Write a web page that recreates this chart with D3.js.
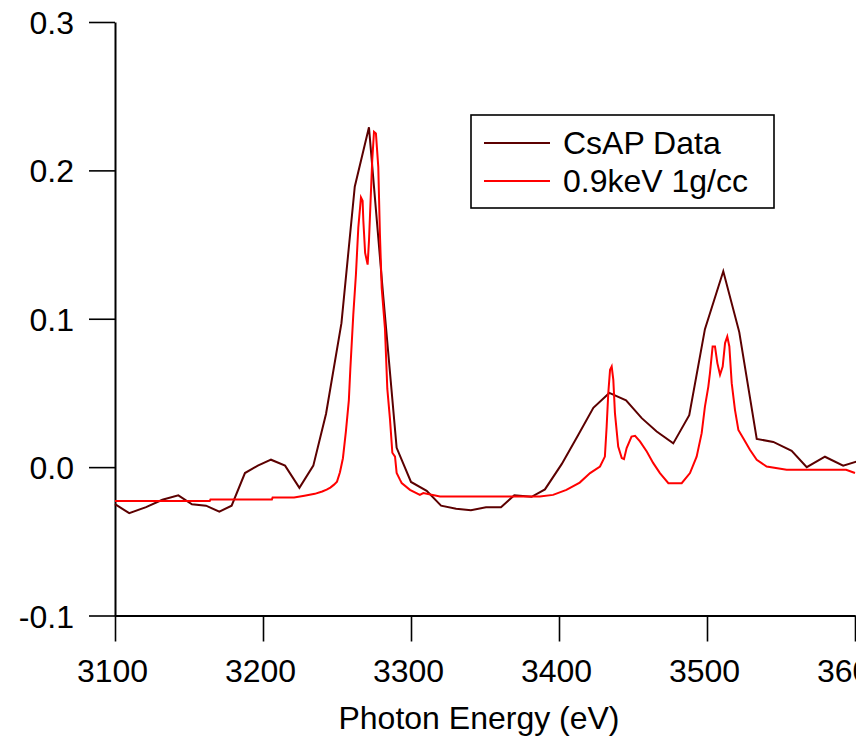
<!DOCTYPE html>
<html>
<head>
<meta charset="utf-8">
<script src="https://cdn.jsdelivr.net/npm/d3@7"></script>
<style>
  body { margin: 0; background: #fff; }
  svg { display: block; font-family: "Liberation Sans", Arial, sans-serif; }
</style>
</head>
<body>
<svg id="chart" width="856" height="739"></svg>
<script>
// ---------------------------//
//          DATA              //
// ---------------------------//

// measured spectrum (eV, signal)
var csapEnergy = [3100, 3109.6, 3121, 3132, 3142.8, 3152, 3161.5, 3170.5, 3178.8, 3187.8,
  3196.5, 3205.4, 3214.9, 3224.6, 3234, 3242.6, 3253, 3262, 3271.6, 3281,
  3290.3, 3300, 3310.6, 3320.3, 3330.5, 3340.5, 3350.7, 3360.8, 3369.8, 3381.5,
  3390.5, 3401.8, 3412.6, 3423.2, 3434, 3445.3, 3455.9, 3466, 3477.2, 3488,
  3498.6, 3511, 3521.8, 3533.6, 3544.8, 3557.2, 3567.4, 3579.7, 3592, 3602];
var csapValue = [-0.025, -0.031, -0.027, -0.022, -0.019, -0.025, -0.026, -0.030, -0.026, -0.004,
  0.001, 0.005, 0.001, -0.014, 0.001, 0.036, 0.097, 0.189, 0.229, 0.118,
  0.013, -0.010, -0.016, -0.026, -0.028, -0.029, -0.027, -0.027, -0.019, -0.020,
  -0.015, 0.002, 0.021, 0.040, 0.050, 0.045, 0.033, 0.024, 0.016, 0.035,
  0.093, 0.132, 0.091, 0.019, 0.017, 0.011, 0.000, 0.007, 0.001, 0.004];

// simulation 0.9keV 1g/cc
var simEnergy = [3100, 3164, 3164.5, 3206, 3206.5, 3221, 3228, 3235, 3240, 3243,
  3245.5, 3248, 3250, 3252, 3254, 3256, 3258, 3259, 3261, 3262.8,
  3264.4, 3266.2, 3267.3, 3267.8, 3269, 3270.7, 3271.6, 3272.7, 3273.8, 3275,
  3276.3, 3277.9, 3279, 3280.2, 3282.4, 3284, 3285.8, 3287.4, 3289.2, 3290.3,
  3292.6, 3293.7, 3299.3, 3306, 3308.3, 3319.6, 3387, 3396, 3405, 3414,
  3421, 3427.7, 3431, 3432.2, 3433.3, 3434.5, 3435.6, 3436.7, 3437.8, 3440,
  3442.4, 3443.9, 3445.7, 3449, 3451.4, 3454.7, 3459.3, 3463.7, 3468.2, 3473.9,
  3482.9, 3488.5, 3493, 3496.4, 3498.6, 3500.9, 3502, 3503.8, 3505.4, 3507,
  3508.8, 3510.6, 3512.2, 3513.7, 3515.1, 3516.7, 3518.9, 3521.2, 3524.5, 3529,
  3533.6, 3540.3, 3553.8, 3594, 3600];
var simValue = [-0.0229, -0.0229, -0.0218, -0.0218, -0.0205, -0.0205, -0.0193, -0.018, -0.0164, -0.0152,
  -0.0138, -0.0118, -0.0098, -0.0035, 0.0060, 0.024, 0.045, 0.066, 0.1026, 0.130,
  0.1615, 0.1818, 0.1796, 0.166, 0.1444, 0.1365, 0.1524, 0.1796, 0.2067, 0.226,
  0.2249, 0.2022, 0.1569, 0.1207, 0.0935, 0.0527, 0.0323, 0.0097, 0.0071, -0.0039,
  -0.0086, -0.0107, -0.0153, -0.0187, -0.0175, -0.0198, -0.0198, -0.0187, -0.0153, -0.0104,
  -0.004, 0.0004, 0.0071, 0.0274, 0.0499, 0.0656, 0.0678, 0.0588, 0.0364, 0.0139,
  0.0061, 0.0054, 0.0128, 0.0206, 0.0211, 0.0173, 0.0105, 0.0027, -0.004, -0.0108,
  -0.0108, -0.004, 0.0071, 0.0229, 0.0408, 0.0543, 0.0633, 0.0813, 0.0813, 0.0701,
  0.0622, 0.0678, 0.0836, 0.088, 0.0813, 0.0566, 0.0386, 0.0251, 0.0195, 0.0117,
  0.0049, 0.0004, -0.0018, -0.0018, -0.004];

var xTicks = [3100, 3200, 3300, 3400, 3500, 3600];
var yTicks = [-0.1, 0.0, 0.1, 0.2, 0.3];
var yTickLabels = ["-0.1", "0.0", "0.1", "0.2", "0.3"];

var seriesNames = ["CsAP Data", "0.9keV 1g/cc"];
var seriesColors = ["#5c0000", "#ff0000"];

// ---------------------------//
//          MAIN              //
// ---------------------------//

var svg = d3.select("#chart");

var x = d3.scaleLinear().domain([3100, 3600]).range([115, 855]);
var y = d3.scaleLinear().domain([-0.1, 0.3]).range([615.5, 22]);

var csap = csapEnergy.map(function(e, i) { return [e, csapValue[i]]; });
var sim = simEnergy.map(function(e, i) { return [e, simValue[i]]; });

var line = d3.line()
  .x(function(d) { return x(d[0]); })
  .y(function(d) { return y(d[1]); });

// axes
var yAxis = d3.axisLeft(y).tickValues(yTicks).tickSize(26).tickSizeOuter(0).tickPadding(15)
  .tickFormat(function(d, i) { return yTickLabels[i]; });
var xAxis = d3.axisBottom(x).tickValues(xTicks).tickSize(26).tickSizeOuter(0).tickPadding(18)
  .tickFormat(d3.format("d"));

var gy = svg.append("g").attr("transform", "translate(115,0)").call(yAxis);
var gx = svg.append("g").attr("transform", "translate(0,615.5)").call(xAxis);

[gx, gy].forEach(function(g) {
  g.select(".domain").attr("stroke", "#000").attr("stroke-width", 2);
  g.selectAll(".tick line").attr("stroke", "#000").attr("stroke-width", 1.6);
  g.selectAll(".tick text")
    .attr("fill", "#000")
    .style("font-size", "32px")
    .style("font-family", "'Liberation Sans', Arial, sans-serif");
});
gy.selectAll(".tick text").attr("dy", "0.36em");
gx.selectAll(".tick text").attr("dx", "-3");

svg.append("text")
  .attr("x", 479)
  .attr("y", 729)
  .attr("text-anchor", "middle")
  .style("font-size", "32px")
  .text("Photon Energy (eV)");

// lines
svg.append("path")
  .datum(csap)
  .attr("fill", "none")
  .attr("stroke", seriesColors[0])
  .attr("stroke-width", 2)
  .attr("d", line);

svg.append("path")
  .datum(sim)
  .attr("fill", "none")
  .attr("stroke", seriesColors[1])
  .attr("stroke-width", 2)
  .attr("d", line);

// legend
var legend = svg.append("g");
legend.append("rect")
  .attr("x", 471).attr("y", 115)
  .attr("width", 303).attr("height", 93)
  .attr("fill", "#fff")
  .attr("stroke", "#000")
  .attr("stroke-width", 1.6);

seriesNames.forEach(function(name, i) {
  var ly = 143 + i * 38;
  legend.append("line")
    .attr("x1", 484).attr("x2", 550)
    .attr("y1", ly).attr("y2", ly)
    .attr("stroke", seriesColors[i])
    .attr("stroke-width", 2);
  legend.append("text")
    .attr("x", 563)
    .attr("y", ly + 11)
    .style("font-size", "32px")
    .text(name);
});
</script>
</body>
</html>
